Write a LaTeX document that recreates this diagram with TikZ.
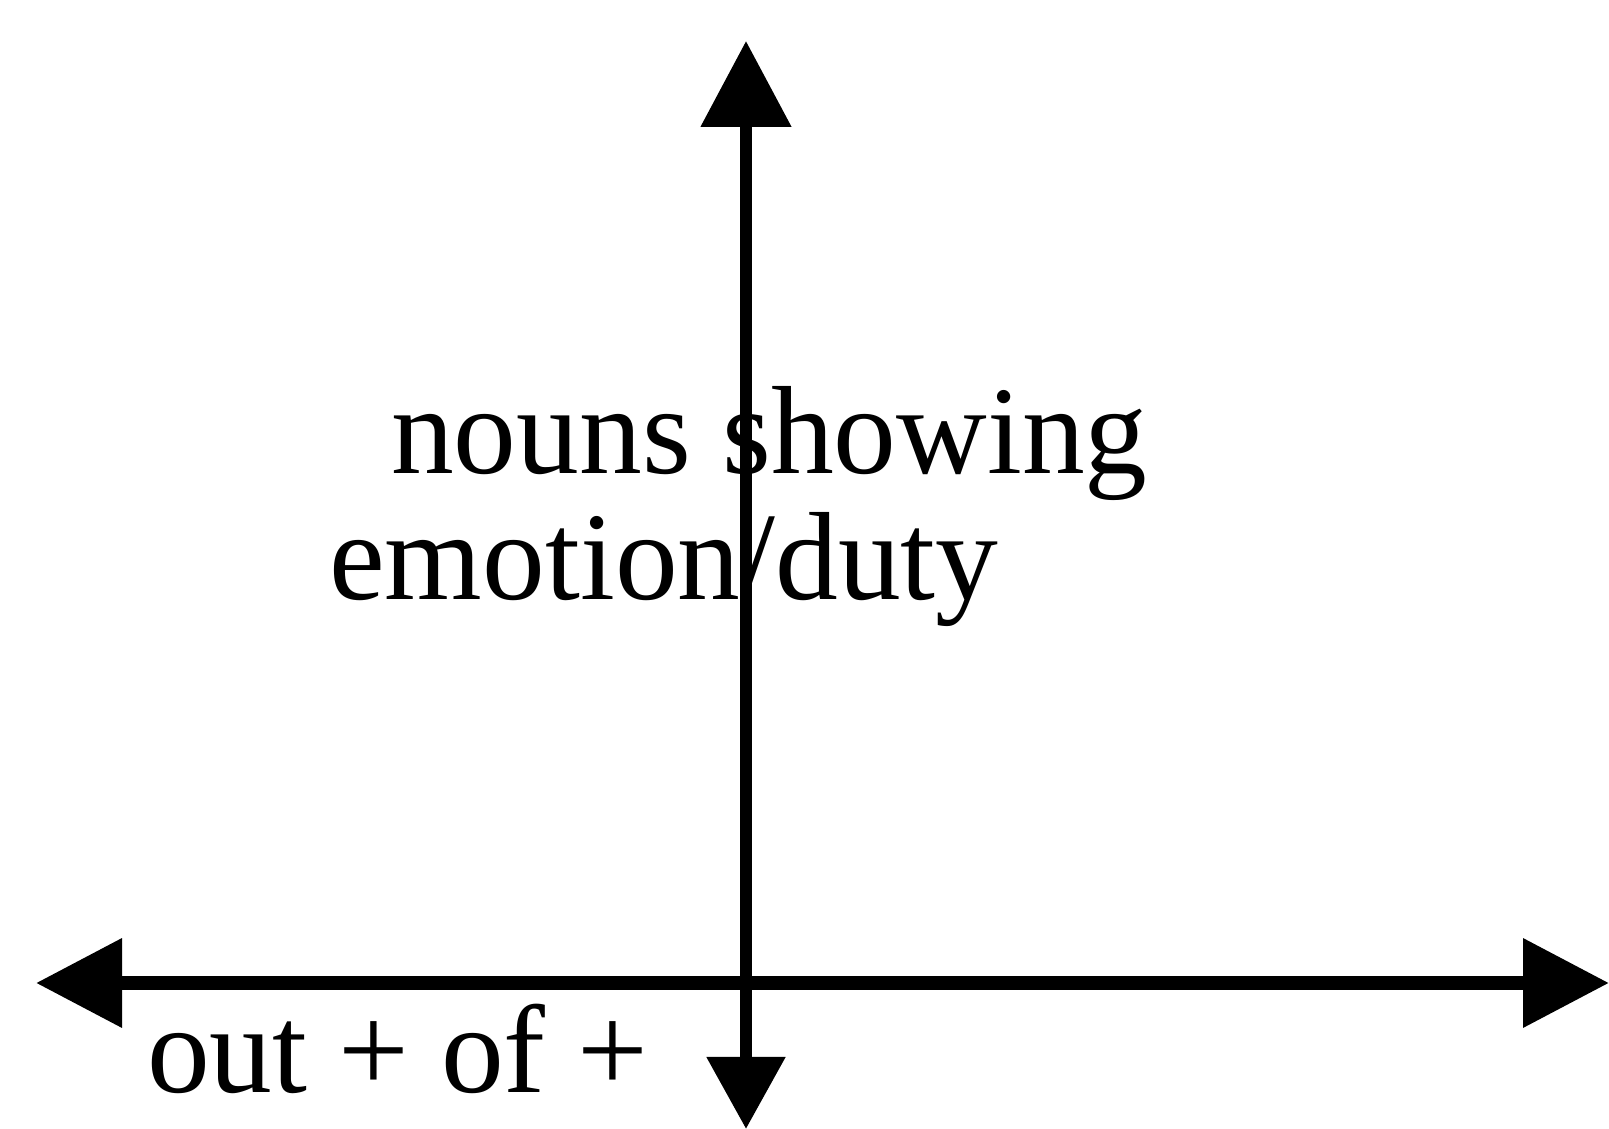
\documentclass[tikz,border=0pt]{standalone}
\usepackage{fontspec}
\setmainfont{Liberation Serif}
\usetikzlibrary{arrows.meta}
\begin{document}
\begin{tikzpicture}[x=1pt,y=1pt,
  vaxis/.style={line width=12pt,black},
  haxis/.style={line width=14pt,black},
  lbl/.style={inner sep=0pt,anchor=base west,font=\fontsize{125.5}{126}\selectfont}]
\useasboundingbox (0,0) rectangle (1609,1129);
\coordinate (vtop) at (746,1088);
\coordinate (vbot) at (746,0);
\coordinate (hleft) at (36,146);
\coordinate (hright) at (1609,146);
\draw[vaxis,{Triangle[length=72pt,width=76pt]}-{Triangle[length=86pt,width=88pt]}] (vbot) -- (vtop);
\draw[haxis,{Triangle[length=86pt,width=86pt]}-{Triangle[length=86pt,width=86pt]}] (hleft) -- (hright);
\node[lbl] (t1) at (391,655) {nouns showing};
\node[lbl] (t2) at (329,529) {emotion/duty};
\node[lbl] (t3) at (147,36) {out + of +};
\end{tikzpicture}
\end{document}
